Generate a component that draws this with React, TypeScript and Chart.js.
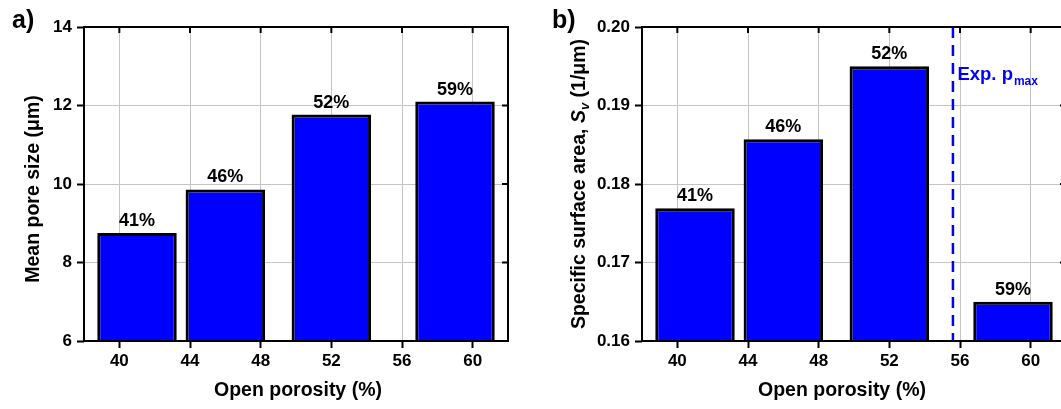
import React, { useEffect, useRef } from "react";
import { Chart, registerables } from "chart.js";

Chart.register(...registerables);

const FONT = "'Liberation Sans', Arial, Helvetica, sans-serif";
const BLUE = "#0000ff";

// ---- data ----
const POROSITY = [41, 46, 52, 59];
const POROSITY_LABELS = ["41%", "46%", "52%", "59%"];
const X_TICKS = [40, 44, 48, 52, 56, 60];
const X_MIN = 38;
const X_MAX = 62;

const PORE_SIZE = [8.75, 9.86, 11.77, 12.1];
const PORE_TICKS = [6, 8, 10, 12, 14];

const SURFACE_AREA = [0.1769, 0.1857, 0.195, 0.165];
const SURFACE_TICKS = [0.16, 0.17, 0.18, 0.19, 0.2];

const EXP_PMAX = 55.6;
const X_TITLE = "Open porosity (%)";
const MARKER_LABEL = "Exp. p";
const MARKER_SUB = "max";

type Seg = { text: string; italic?: boolean; sub?: boolean };

interface PanelSpec {
  letter: string;
  letterX: number;
  left: number;
  width: number;
  area: { left: number; top: number; right: number; bottom: number };
  values: number[];
  yTicks: number[];
  yDecimals: number;
  yTitle: Seg[];
  yTitleX: number;
  yTitleY: number;
  xTitleX: number;
  marker?: number;
}

const H = 409;

function drawRotatedRich(ctx: CanvasRenderingContext2D, segs: Seg[], cx: number, cy: number, size: number) {
  const fontFor = (s: Seg) => `${s.italic ? "italic " : ""}bold ${s.sub ? Math.round(size * 0.65) : size}px ${FONT}`;
  const widths = segs.map((s) => {
    ctx.font = fontFor(s);
    return ctx.measureText(s.text).width;
  });
  const total = widths.reduce((a, b) => a + b, 0);
  ctx.save();
  ctx.translate(cx, cy);
  ctx.rotate(-Math.PI / 2);
  ctx.textAlign = "left";
  ctx.textBaseline = "alphabetic";
  ctx.fillStyle = "#000";
  let x = -total / 2;
  const base = size * 0.36;
  segs.forEach((s, i) => {
    ctx.font = fontFor(s);
    ctx.fillText(s.text, x, s.sub ? base + size * 0.22 : base);
    x += widths[i];
  });
  ctx.restore();
}

function Panel({ spec }: { spec: PanelSpec }) {
  const ref = useRef<HTMLCanvasElement>(null);
  useEffect(() => {
    const canvas = ref.current;
    if (!canvas) return;
    const L = spec.left;
    const a = spec.area;

    const decor = {
      id: "decor",
      afterDatasetsDraw(chart: any) {
        const { ctx, chartArea: ca } = chart;
        const xs = chart.scales.x;
        const ys = chart.scales.y;
        ctx.save();

        if (spec.marker !== undefined) {
          const mx = xs.getPixelForValue(spec.marker);
          ctx.strokeStyle = BLUE;
          ctx.lineWidth = 2.5;
          ctx.setLineDash([11, 7]);
          ctx.beginPath();
          ctx.moveTo(mx, ca.top);
          ctx.lineTo(mx, ca.bottom);
          ctx.stroke();
          ctx.setLineDash([]);
          ctx.fillStyle = BLUE;
          ctx.textAlign = "left";
          ctx.textBaseline = "alphabetic";
          ctx.font = `bold 18.5px ${FONT}`;
          const tx = mx + 4.5;
          const ty = ca.top + 53;
          ctx.fillText(MARKER_LABEL, tx, ty);
          const w = ctx.measureText(MARKER_LABEL).width;
          ctx.font = `bold 12px ${FONT}`;
          ctx.fillText(MARKER_SUB, tx + w + 1, ty + 5);
        }

        // frame
        ctx.strokeStyle = "#000";
        ctx.lineWidth = 2;
        ctx.setLineDash([]);
        ctx.strokeRect(ca.left, ca.top, ca.right - ca.left, ca.bottom - ca.top);
        ctx.beginPath();
        X_TICKS.forEach((v) => {
          const p = xs.getPixelForValue(v);
          ctx.moveTo(p, ca.top);
          ctx.lineTo(p, ca.top + 6);
        });
        spec.yTicks.forEach((v) => {
          const p = ys.getPixelForValue(v);
          ctx.moveTo(ca.right, p);
          ctx.lineTo(ca.right - 6, p);
        });
        ctx.stroke();

        // bar labels
        ctx.fillStyle = "#000";
        ctx.font = `bold 18px ${FONT}`;
        ctx.textAlign = "center";
        ctx.textBaseline = "alphabetic";
        POROSITY.forEach((p, i) => {
          const x = xs.getPixelForValue(p);
          const y = ys.getPixelForValue(spec.values[i]);
          ctx.fillText(POROSITY_LABELS[i], x, y - 7);
        });

        // x title
        ctx.font = `bold 19.5px ${FONT}`;
        ctx.textBaseline = "middle";
        ctx.fillText(X_TITLE, spec.xTitleX - L, 391);

        // panel letter
        ctx.font = `bold 25px ${FONT}`;
        ctx.textAlign = "left";
        ctx.textBaseline = "alphabetic";
        ctx.fillText(spec.letter, spec.letterX - L, 28);

        // y title
        drawRotatedRich(ctx, spec.yTitle, spec.yTitleX - L, spec.yTitleY, 19.5);

        ctx.restore();
      },
    };

    const tickFont = { family: FONT, size: 17, weight: "bold" as const };

    const chart = new Chart(canvas, {
      type: "bar",
      data: {
        datasets: [
          {
            data: POROSITY.map((p, i) => ({ x: p, y: spec.values[i] })),
            backgroundColor: BLUE,
            borderColor: "#000",
            borderWidth: 3,
            borderSkipped: "start",
            inflateAmount: 0,
            barPercentage: 1,
            categoryPercentage: 1.125,
            base: spec.yTicks[0],
          } as any,
        ],
      },
      options: {
        animation: false,
        responsive: false,
        events: [],
        layout: {
          padding: {
            left: 0,
            top: a.top,
            right: L + spec.width - a.right,
            bottom: 0,
          },
        },
        plugins: {
          legend: { display: false },
          tooltip: { enabled: false },
          title: { display: false },
        },
        scales: {
          x: {
            type: "linear",
            min: X_MIN,
            max: X_MAX,
            offset: false,
            afterBuildTicks: (s: any) => {
              s.ticks = X_TICKS.map((v) => ({ value: v }));
            },
            afterFit: (s: any) => {
              s.height = H - a.bottom;
            },
            ticks: {
              autoSkip: false,
              maxRotation: 0,
              minRotation: 0,
              padding: 3,
              color: "#000",
              font: tickFont,
              callback: (v: any) => String(v),
            },
            grid: {
              offset: false,
              color: "#c4c4c4",
              lineWidth: 1,
              drawTicks: true,
              tickLength: 7,
              tickColor: "#000",
              tickWidth: 2,
            },
            border: { display: false },
          },
          y: {
            type: "linear",
            min: spec.yTicks[0],
            max: spec.yTicks[spec.yTicks.length - 1],
            afterBuildTicks: (s: any) => {
              s.ticks = spec.yTicks.map((v) => ({ value: v }));
            },
            afterFit: (s: any) => {
              s.width = a.left - L;
            },
            ticks: {
              padding: 5,
              color: "#000",
              font: tickFont,
              callback: (v: any) => Number(v).toFixed(spec.yDecimals),
            },
            grid: {
              color: "#c4c4c4",
              lineWidth: 1,
              drawTicks: true,
              tickLength: 7,
              tickColor: "#000",
              tickWidth: 2,
            },
            border: { display: false },
          },
        },
      },
      plugins: [decor],
    } as any);

    return () => chart.destroy();
  }, [spec]);

  return (
    <canvas
      ref={ref}
      width={spec.width}
      height={H}
      style={{ position: "absolute", left: spec.left, top: 0, width: spec.width, height: H }}
    />
  );
}

const LEFT_SPEC: PanelSpec = {
  letter: "a)",
  letterX: 12,
  left: 0,
  width: 530,
  area: { left: 84, top: 27, right: 508, bottom: 341 },
  values: PORE_SIZE,
  yTicks: PORE_TICKS,
  yDecimals: 0,
  yTitle: [{ text: "Mean pore size (μm)" }],
  yTitleX: 32,
  yTitleY: 189,
  xTitleX: 298,
};

const RIGHT_SPEC: PanelSpec = {
  letter: "b)",
  letterX: 552,
  left: 530,
  width: 550,
  area: { left: 642, top: 27, right: 1066, bottom: 341 },
  values: SURFACE_AREA,
  yTicks: SURFACE_TICKS,
  yDecimals: 2,
  yTitle: [
    { text: "Specific surface area, " },
    { text: "S", italic: true },
    { text: "v", italic: true, sub: true },
    { text: " (1/μm)" },
  ],
  yTitleX: 578,
  yTitleY: 184,
  xTitleX: 842,
  marker: EXP_PMAX,
};

export default function App() {
  return (
    <div
      style={{
        position: "fixed",
        left: 0,
        top: 0,
        width: 1061,
        height: H,
        overflow: "hidden",
        background: "#fff",
      }}
    >
      <Panel spec={LEFT_SPEC} />
      <Panel spec={RIGHT_SPEC} />
    </div>
  );
}
